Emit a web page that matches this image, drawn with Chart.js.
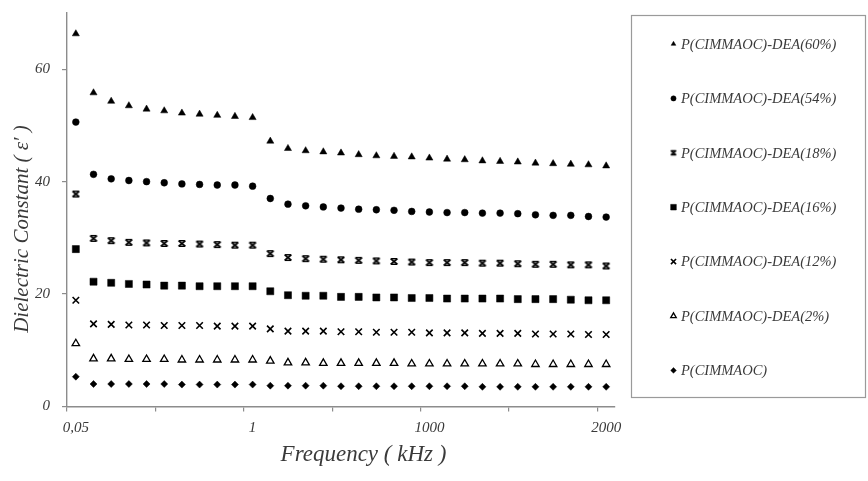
<!DOCTYPE html>
<html>
<head>
<meta charset="utf-8">
<script src="https://cdn.jsdelivr.net/npm/chart.js@4.4.1/dist/chart.umd.min.js"></script>
<style>
  html, body { margin: 0; padding: 0; background: #ffffff; }
  #c { display: block; }
</style>
</head>
<body>
<canvas id="c" width="868" height="481"></canvas>
<script>
// Labelled frequency positions (kHz) along the 31 measurement points
const pointCount = 31;
const tickPositions = [0, 10, 20, 30];
const tickLabels = ['0,05', '1', '1000', '2000'];

const seriesNames = [
  'P(CIMMAOC)-DEA(60%)',
  'P(CIMMAOC)-DEA(54%)',
  'P(CIMMAOC)-DEA(18%)',
  'P(CIMMAOC)-DEA(16%)',
  'P(CIMMAOC)-DEA(12%)',
  'P(CIMMAOC)-DEA(2%)',
  'P(CIMMAOC)'
];

// Dielectric constant per measurement point
const dea60 = [66.3, 55.8, 54.3, 53.5, 52.9, 52.6, 52.2, 52.0, 51.8, 51.6, 51.4, 47.2, 45.9, 45.5, 45.3, 45.1, 44.8, 44.6, 44.5, 44.4, 44.2, 44.0, 43.9, 43.7, 43.6, 43.5, 43.3, 43.2, 43.1, 43.0, 42.8];
const dea54 = [50.6, 41.3, 40.5, 40.2, 40.0, 39.8, 39.6, 39.5, 39.4, 39.4, 39.2, 37.0, 36.0, 35.7, 35.5, 35.3, 35.1, 35.0, 34.9, 34.7, 34.6, 34.5, 34.5, 34.4, 34.4, 34.3, 34.1, 34.0, 34.0, 33.8, 33.7];
const dea18 = [37.8, 29.9, 29.5, 29.2, 29.1, 29.0, 29.0, 28.9, 28.8, 28.7, 28.7, 27.2, 26.5, 26.3, 26.2, 26.1, 26.0, 25.9, 25.8, 25.7, 25.6, 25.6, 25.6, 25.5, 25.5, 25.4, 25.3, 25.3, 25.2, 25.2, 25.0];
const dea16 = [28.0, 22.2, 22.0, 21.8, 21.7, 21.5, 21.5, 21.4, 21.4, 21.4, 21.4, 20.5, 19.8, 19.7, 19.7, 19.5, 19.5, 19.4, 19.4, 19.3, 19.3, 19.2, 19.2, 19.2, 19.2, 19.1, 19.1, 19.1, 19.0, 18.9, 18.9];
const dea12 = [18.9, 14.7, 14.6, 14.5, 14.5, 14.4, 14.4, 14.4, 14.3, 14.3, 14.3, 13.8, 13.4, 13.4, 13.4, 13.3, 13.3, 13.2, 13.2, 13.2, 13.1, 13.1, 13.1, 13.0, 13.0, 13.0, 12.9, 12.9, 12.9, 12.8, 12.8];
const dea2  = [11.2, 8.5, 8.5, 8.4, 8.4, 8.4, 8.3, 8.3, 8.3, 8.3, 8.3, 8.1, 7.8, 7.8, 7.7, 7.7, 7.7, 7.7, 7.7, 7.6, 7.6, 7.6, 7.6, 7.6, 7.6, 7.6, 7.5, 7.5, 7.5, 7.5, 7.5];
const pure  = [5.3, 4.0, 4.0, 4.0, 4.0, 4.0, 3.9, 3.9, 3.9, 3.9, 3.9, 3.7, 3.7, 3.7, 3.7, 3.6, 3.6, 3.6, 3.6, 3.6, 3.6, 3.6, 3.6, 3.5, 3.5, 3.5, 3.5, 3.5, 3.5, 3.5, 3.5];

const yTickValues = [0, 20, 40, 60];

const categories = Array.from({ length: pointCount }, (_, i) => {
  const k = tickPositions.indexOf(i);
  return k >= 0 ? tickLabels[k] : '';
});

const AXIS = '#8c8c8c';
const TEXT = '#3a3a3a';
const SERIF = "'Liberation Serif', 'Times New Roman', serif";

// "X with caps" marker: an X closed by bars along its top and bottom
function cappedCross(hw, hh, lw) {
  const w = Math.ceil(hw * 2 + lw * 2 + 2);
  const h = Math.ceil(hh * 2 + lw * 2 + 2);
  const cv = document.createElement('canvas');
  cv.width = w; cv.height = h;
  const g = cv.getContext('2d');
  const cx = w / 2, cy = h / 2;
  g.strokeStyle = '#000';
  g.lineCap = 'butt';
  g.lineWidth = lw;
  g.beginPath();
  g.moveTo(cx - hw, cy - hh); g.lineTo(cx + hw, cy + hh);
  g.moveTo(cx + hw, cy - hh); g.lineTo(cx - hw, cy + hh);
  g.stroke();
  g.lineWidth = lw * 0.9;
  g.beginPath();
  g.moveTo(cx - hw, cy - hh); g.lineTo(cx + hw, cy - hh);
  g.moveTo(cx - hw, cy + hh); g.lineTo(cx + hw, cy + hh);
  g.stroke();
  return cv;
}
const cappedBig = cappedCross(3.3, 2.7, 1.7);
const cappedSmall = cappedCross(2.5, 2.1, 1.4);

const styles = [
  { pointStyle: 'triangle', radius: 4.1, bg: '#000', border: '#000', bw: 0.5, legendRadius: 2.7 },
  { pointStyle: 'circle',   radius: 3.4, bg: '#000', border: '#000', bw: 0.5, legendRadius: 2.6 },
  { pointStyle: cappedBig,  radius: 4,   bg: '#000', border: '#000', bw: 0,   legendStyle: cappedSmall, legendRadius: 3 },
  { pointStyle: 'rect',     radius: 5.0, bg: '#000', border: '#000', bw: 0.5, legendRadius: 4.0 },
  { pointStyle: 'crossRot', radius: 4.6, bg: '#000', border: '#000', bw: 1.6, legendRadius: 3.6 },
  { pointStyle: 'triangle', radius: 4.3, bg: '#fff', border: '#000', bw: 1.3, legendRadius: 3.2 },
  { pointStyle: 'rectRot',  radius: 3.5, bg: '#000', border: '#000', bw: 0.5, legendRadius: 2.8 }
];

const seriesValues = [dea60, dea54, dea18, dea16, dea12, dea2, pure];

const datasets = seriesValues.map((vals, i) => ({
  label: seriesNames[i],
  data: vals,
  showLine: false,
  pointStyle: styles[i].pointStyle,
  pointRadius: styles[i].radius,
  pointHoverRadius: styles[i].radius,
  pointBackgroundColor: styles[i].bg,
  pointBorderColor: styles[i].border,
  pointBorderWidth: styles[i].bw,
  backgroundColor: styles[i].bg,
  borderColor: styles[i].border
}));

// Boxed legend on the right
const boxedLegend = {
  id: 'boxedLegend',
  afterDraw(chart) {
    const ctx = chart.ctx;
    ctx.save();
    ctx.strokeStyle = '#9a9a9a';
    ctx.lineWidth = 1.2;
    ctx.strokeRect(631.5, 15.5, 234, 382);
    ctx.font = 'italic 14.5px ' + SERIF;
    ctx.textBaseline = 'middle';
    ctx.textAlign = 'left';
    chart.data.datasets.forEach((ds, i) => {
      const y = 44 + i * 54.4;
      const s = styles[i];
      ctx.fillStyle = s.bg;
      ctx.strokeStyle = s.border;
      ctx.lineWidth = s.bw;
      Chart.helpers.drawPoint(ctx, {
        pointStyle: s.legendStyle || s.pointStyle,
        radius: s.legendRadius,
        rotation: 0,
        borderWidth: s.bw
      }, 673.5, y);
      ctx.fillStyle = TEXT;
      ctx.fillText(ds.label, 681, y + 1);
    });
    ctx.restore();
  }
};

// Axis titles
const axisTitles = {
  id: 'axisTitles',
  afterDraw(chart) {
    const ctx = chart.ctx;
    ctx.save();
    ctx.fillStyle = TEXT;
    ctx.textAlign = 'center';
    ctx.textBaseline = 'middle';
    ctx.font = 'italic 23px ' + SERIF;
    ctx.fillText('Frequency ( kHz )', 363.5, 455);
    ctx.translate(22, 229);
    ctx.rotate(-Math.PI / 2);
    ctx.font = 'italic 21px ' + SERIF;
    ctx.fillText('Dielectric Constant ( \u03B5\u2032 )', 0, 0);
    ctx.restore();
  }
};

// Keep the axes from reserving extra room for their end labels
function noScalePadding(s) {
  s.paddingTop = 0;
  s.paddingBottom = 0;
  s.paddingLeft = 0;
  s.paddingRight = 0;
}

new Chart(document.getElementById('c'), {
  type: 'line',
  data: { labels: categories, datasets },
  plugins: [boxedLegend, axisTitles],
  options: {
    responsive: false,
    animation: false,
    events: [],
    layout: { padding: { top: 13, right: 253, left: 0, bottom: 0 } },
    plugins: {
      legend: { display: false },
      tooltip: { enabled: false },
      title: { display: false }
    },
    scales: {
      x: {
        type: 'category',
        offset: true,
        grid: {
          offset: true,
          drawOnChartArea: false,
          tickLength: 5,
          lineWidth: 1.2,
          tickColor: (c) => (c.index % 5 === 0 ? AXIS : 'rgba(0,0,0,0)')
        },
        border: { color: AXIS, width: 1.4 },
        ticks: {
          autoSkip: false,
          maxRotation: 0,
          minRotation: 0,
          padding: 8,
          color: TEXT,
          font: { family: SERIF, style: 'italic', size: 15 },
          callback: (v, i) => categories[i]
        },
        afterFit: (s) => { s.height = 74.5; noScalePadding(s); }
      },
      y: {
        min: 0,
        max: 70,
        afterBuildTicks: (s) => {
          s.ticks = yTickValues.map((v) => ({ value: v }));
        },
        grid: {
          drawOnChartArea: false,
          tickLength: 5,
          lineWidth: 1.2,
          color: AXIS
        },
        border: { color: AXIS, width: 1.4 },
        ticks: {
          padding: 12,
          color: TEXT,
          font: { family: SERIF, style: 'italic', size: 15 }
        },
        afterFit: (s) => { s.width = 67; noScalePadding(s); }
      }
    }
  }
});
</script>
</body>
</html>
